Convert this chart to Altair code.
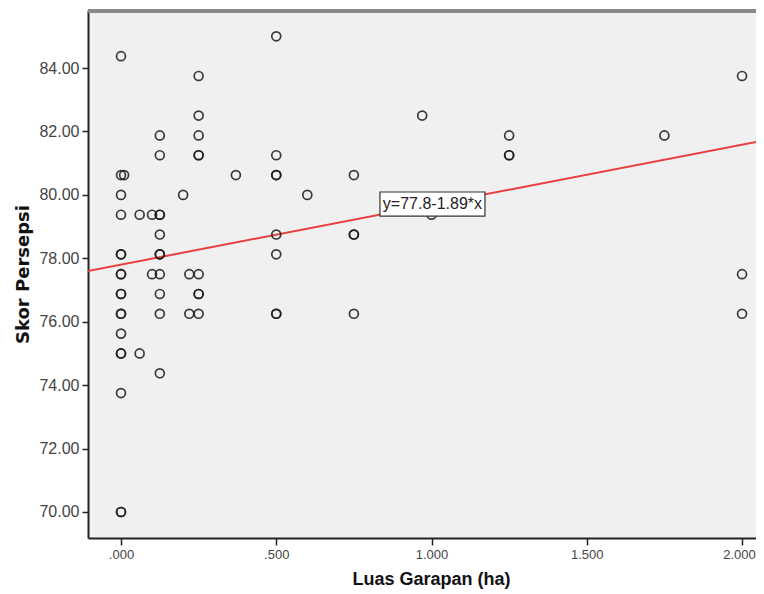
import altair as alt
import pandas as pd

# Scatter data (Luas Garapan in ha, Skor Persepsi)
luas = [
    0, 0, 0, 0, 0, 0, 0, 0, 0, 0, 0, 0, 0, 0, 0, 0, 0, 0,
    0.01,
    0.06, 0.06,
    0.10, 0.10,
    0.125, 0.125, 0.125, 0.125, 0.125, 0.125, 0.125, 0.125, 0.125, 0.125, 0.125,
    0.20,
    0.22, 0.22,
    0.25, 0.25, 0.25, 0.25, 0.25, 0.25, 0.25, 0.25, 0.25,
    0.37,
    0.50, 0.50, 0.50, 0.50, 0.50, 0.50, 0.50, 0.50,
    0.60,
    0.75, 0.75, 0.75, 0.75,
    0.97,
    1.00,
    1.25, 1.25, 1.25,
    1.75,
    2.00, 2.00, 2.00,
]
skor = [
    84.375, 80.625, 80.0, 79.375, 78.125, 78.125, 77.5, 77.5, 76.875, 76.875,
    76.25, 76.25, 75.625, 75.0, 75.0, 73.75, 70.0, 70.0,
    80.625,
    79.375, 75.0,
    79.375, 77.5,
    81.875, 81.25, 79.375, 79.375, 78.75, 78.125, 78.125, 77.5, 76.875, 76.25, 74.375,
    80.0,
    77.5, 76.25,
    83.75, 82.5, 81.875, 81.25, 81.25, 77.5, 76.875, 76.875, 76.25,
    80.625,
    85.0, 81.25, 80.625, 80.625, 78.75, 78.125, 76.25, 76.25,
    80.0,
    80.625, 78.75, 78.75, 76.25,
    82.5,
    79.375,
    81.875, 81.25, 81.25,
    81.875,
    83.75, 77.5, 76.25,
]

# Fit line (as printed on the chart)
fit_intercept = 77.8
fit_slope = 1.89
fit_x = [-0.11, 2.08]
fit_y = [fit_intercept + fit_slope * v for v in fit_x]
fit_label = ["y=77.8-1.89*x"]
label_x = [1.003]
label_y = [79.71]

x_ticks = [0, 0.5, 1.0, 1.5, 2.0]
y_ticks = [70, 72, 74, 76, 78, 80, 82, 84]

pts = pd.DataFrame({"luas": luas, "skor": skor})
fit = pd.DataFrame({"luas": fit_x, "skor": fit_y})
lab = pd.DataFrame({"luas": label_x, "skor": label_y, "text": fit_label})

W, H = 668, 528
FONT = "Liberation Sans"

xscale = alt.Scale(domain=[-0.1063, 2.045], nice=False, zero=False)
yscale = alt.Scale(domain=[69.18, 85.83], nice=False, zero=False)

xaxis = alt.Axis(
    values=x_ticks,
    labelExpr="datum.value < 1 ? substring(format(datum.value, '.3f'), 1) : format(datum.value, '.3f')",
    labelOffset={"condition": {"test": "datum.value >= 2", "value": -3}, "value": 0},
    title="Luas Garapan (ha)",
    titleX=343,
    titleAlign="center",
    grid=False,
    tickSize=7,
    tickColor="#222",
    tickWidth=1.5,
    domainColor="#222",
    domainWidth=2,
    labelFont=FONT,
    labelFontSize=13,
    labelColor="#444",
    labelPadding=3,
    titleFont=FONT,
    titleFontSize=18,
    titleFontWeight="bold",
    titleColor="#111",
    titlePadding=9,
)
yaxis = alt.Axis(
    values=y_ticks,
    format=".2f",
    title="Skor Persepsi",
    grid=False,
    tickSize=6,
    tickColor="#222",
    tickWidth=1.5,
    domainColor="#222",
    domainWidth=2,
    labelFont=FONT,
    labelFontSize=16,
    labelColor="#444",
    labelPadding=3,
    titleFont="DejaVu Sans",
    titleFontSize=18,
    titleFontWeight="bold",
    titleColor="#111",
    titlePadding=6,
)

base_x = alt.X("luas:Q", scale=xscale, axis=xaxis)
base_y = alt.Y("skor:Q", scale=yscale, axis=yaxis)

points = alt.Chart(pts).mark_point(
    shape="circle", filled=False, size=80, stroke="#1a1a1a", strokeWidth=1.7, opacity=0.85
).encode(x=base_x, y=base_y)

line = alt.Chart(fit).mark_line(color="#e8403f", strokeWidth=2, clip=True).encode(
    x=alt.X("luas:Q", scale=xscale), y=alt.Y("skor:Q", scale=yscale)
)

box = alt.Chart(lab).mark_point(
    shape="M-1,-0.23H1V0.23H-1Z", size=11025, filled=True, fill="white",
    stroke="#333", strokeWidth=1.2, opacity=1
).encode(x=alt.X("luas:Q", scale=xscale), y=alt.Y("skor:Q", scale=yscale))

txt = alt.Chart(lab).mark_text(
    font=FONT, fontSize=16, color="#222", align="center", baseline="middle"
).encode(x=alt.X("luas:Q", scale=xscale), y=alt.Y("skor:Q", scale=yscale), text="text:N")

top_border = alt.Chart(pts).mark_rule(color="#888", strokeWidth=3).encode(
    x=alt.value(0), x2=alt.value(W), y=alt.value(1)
)

chart = alt.layer(line, points, box, txt, top_border).properties(
    width=W,
    height=H,
    autosize=alt.AutoSizeParams(type="none"),
    padding={"left": 80, "top": 2, "right": 0, "bottom": 56},
    background="white",
).configure_view(fill="#f0f0f0", stroke="transparent")

chart.save("out.html", embed_options={"renderer": "svg", "actions": False})
